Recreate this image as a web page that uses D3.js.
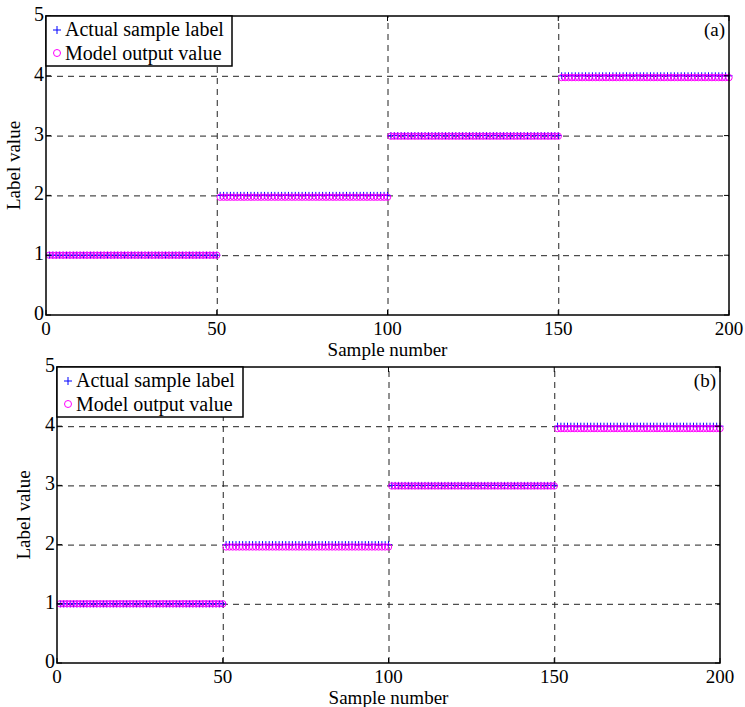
<!DOCTYPE html>
<html>
<head>
<meta charset="utf-8">
<script src="https://cdn.jsdelivr.net/npm/d3@7"></script>
<style>
  body { margin: 0; background: #fff; font-family: "Liberation Serif", "DejaVu Serif", serif; }
  text { font-family: "Liberation Serif", "DejaVu Serif", serif; }
  .grid line { stroke: #222; stroke-dasharray: 6,5; stroke-width: 1; }
  .grid path { display: none; }
</style>
</head>
<body>
<script>
// ---- data ----
var classLabels     = [1, 2, 3, 4];
var samplesPerClass = [50, 50, 50, 50];
// model output per class (circles sit a touch under the label for some classes)
var outputA = [1.00, 1.97, 2.99, 3.97];
var outputB = [1.00, 1.96, 2.99, 3.96];
var xTicks = [0, 50, 100, 150, 200];
var yTicks = [0, 1, 2, 3, 4, 5];
var xGrid  = [50, 100, 150];
var yGrid  = [1, 2, 3, 4];
var legendNames = ["Actual sample label", "Model output value"];

// expand class values into one entry per sample
function expand(vals) {
    var out = [], n = 1;
    vals.forEach(function(v, i) {
        for (var k = 0; k < samplesPerClass[i]; k++) { out.push({x: n, y: v}); n++; }
    });
    return out;
}

var svg = d3.select("body").append("svg")
    .attr("width", 745)
    .attr("height", 707)
    .attr("font-family", "Liberation Serif, DejaVu Serif, serif");

// panel boxes, pixel positions
var panels = [
    {left: 46, top: 16,  width: 683, height: 299, out: outputA, tag: "(a)", ylabX: 20},
    {left: 57, top: 367, width: 663, height: 296, out: outputB, tag: "(b)", ylabX: 30}
];

panels.forEach(function(p) {
    var g = svg.append("g")
        .attr("transform", "translate(" + p.left + "," + p.top + ")");

    var x = d3.scaleLinear().domain([0, 200]).range([0, p.width]);
    var y = d3.scaleLinear().domain([0, 5]).range([p.height, 0]);

    // dashed grid
    g.append("g").attr("class", "grid")
        .attr("transform", "translate(0," + p.height + ")")
        .call(d3.axisBottom(x).tickValues(xGrid).tickSize(-p.height).tickFormat(""));
    g.append("g").attr("class", "grid")
        .call(d3.axisLeft(y).tickValues(yGrid).tickSize(-p.width).tickFormat(""));

    // markers: plus for label, circle for output
    var lab = expand(classLabels), mod = expand(p.out);
    g.append("g").selectAll("path").data(lab).enter().append("path")
        .attr("d", function(d) {
            var cx = x(d.x), cy = y(d.y), s = 3.5;
            return "M" + (cx - s) + "," + cy + "H" + (cx + s) + "M" + cx + "," + (cy - s) + "V" + (cy + s);
        })
        .attr("stroke", "#0000ff").attr("stroke-width", 1).attr("fill", "none");
    g.append("g").selectAll("circle").data(mod).enter().append("circle")
        .attr("cx", function(d) { return x(d.x); })
        .attr("cy", function(d) { return y(d.y); })
        .attr("r", 3.2)
        .attr("fill", "none").attr("stroke", "#ff00ff").attr("stroke-width", 1);

    // box
    g.append("rect").attr("width", p.width).attr("height", p.height)
        .attr("fill", "none").attr("stroke", "#000").attr("stroke-width", 1.5);

    // ticks inward
    xTicks.forEach(function(t) {
        g.append("line").attr("x1", x(t)).attr("x2", x(t)).attr("y1", p.height).attr("y2", p.height - 5).attr("stroke", "#000");
        g.append("line").attr("x1", x(t)).attr("x2", x(t)).attr("y1", 0).attr("y2", 5).attr("stroke", "#000");
        g.append("text").attr("x", x(t)).attr("y", p.height + 20)
            .attr("text-anchor", "middle").style("font-size", "19px").text(t);
    });
    yTicks.forEach(function(t) {
        g.append("line").attr("x1", 0).attr("x2", 5).attr("y1", y(t)).attr("y2", y(t)).attr("stroke", "#000");
        g.append("line").attr("x1", p.width).attr("x2", p.width - 5).attr("y1", y(t)).attr("y2", y(t)).attr("stroke", "#000");
        g.append("text").attr("x", -2).attr("y", y(t) + 5)
            .attr("text-anchor", "end").style("font-size", "20px").text(t);
    });

    // axis labels
    g.append("text").attr("x", p.width / 2).attr("y", p.height + 41)
        .attr("text-anchor", "middle").style("font-size", "19px").text("Sample number");
    svg.append("text")
        .attr("transform", "translate(" + p.ylabX + "," + (p.top + p.height / 2) + ") rotate(-90)")
        .attr("text-anchor", "middle").style("font-size", "19px").text("Label value");

    // panel tag
    g.append("text").attr("x", p.width - 4).attr("y", 20)
        .attr("text-anchor", "end").style("font-size", "19px").text(p.tag);

    // legend
    var lg = g.append("g");
    lg.append("rect").attr("width", 186).attr("height", 50)
        .attr("fill", "#fff").attr("stroke", "#000").attr("stroke-width", 1.5);
    lg.append("path").attr("d", "M7,14H15M11,10V18")
        .attr("stroke", "#0000ff").attr("fill", "none");
    lg.append("circle").attr("cx", 11).attr("cy", 37).attr("r", 3.5)
        .attr("fill", "none").attr("stroke", "#ff00ff");
    legendNames.forEach(function(n, i) {
        lg.append("text").attr("x", 19).attr("y", 20 + i * 24)
            .style("font-size", "20px").text(n);
    });
});
</script>
</body>
</html>
